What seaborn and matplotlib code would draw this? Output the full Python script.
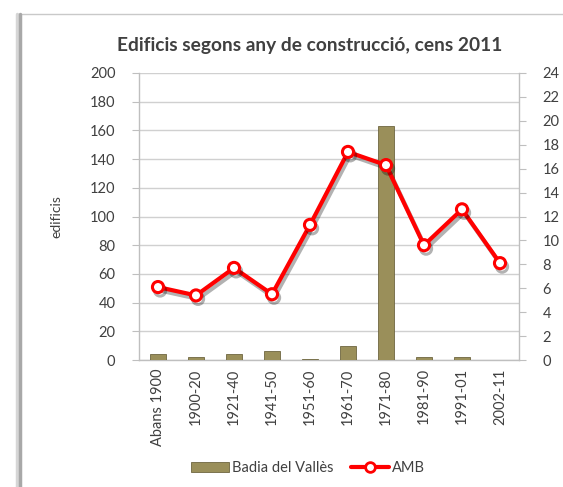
import matplotlib
matplotlib.use("Agg")
import numpy as np
import pandas as pd
import matplotlib.pyplot as plt
import matplotlib.patheffects as pe
from matplotlib.patches import Rectangle
from matplotlib.lines import Line2D
from matplotlib.ticker import MultipleLocator
import seaborn as sns

# Data
periods = ["Abans 1900", "1900-20", "1921-40", "1941-50", "1951-60",
           "1961-70", "1971-80", "1981-90", "1991-01", "2002-11"]
badia = [4, 2, 4, 6, 1, 10, 163, 2, 2, 0]          # left axis (edificis)
amb = [6.1, 5.4, 7.7, 5.5, 11.3, 17.4, 16.3, 9.6, 12.6, 8.1]  # right axis

df = pd.DataFrame({"periode": periods, "Badia del Vallès": badia, "AMB": amb})

sns.set_style("white")
plt.rcParams["font.family"] = ["Lato", "DejaVu Sans"]

TXT = "#404040"
GRID = "#d0d0d0"
SPINE = "#bfbfbf"
BAR = "#9a8f5a"
RED = "#ff0000"

fig = plt.figure(figsize=(5.63, 4.87), dpi=100)
ax = fig.add_axes([139 / 563, 1 - 360 / 487, 380 / 563, 287 / 487])

# chart frame (left shadowed edge + top line)
fig.patches.append(Rectangle((20 / 563, -0.1), 1.2, 1 - 14 / 487 + 0.1,
                             transform=fig.transFigure, fill=False,
                             edgecolor="#c9c9c9", linewidth=1.0, zorder=0))
fig.add_artist(Line2D([20 / 563, 20 / 563], [0, 1 - 14 / 487],
                      transform=fig.transFigure, color="#a8a8a8", linewidth=2.5,
                      path_effects=[pe.SimpleLineShadow(offset=(-2, 0), shadow_color="#cccccc", alpha=0.8),
                                    pe.Normal()]))

# bars (left axis)
sns.barplot(data=df, x="periode", y="Badia del Vallès", color=BAR, width=0.4,
            saturation=1, edgecolor="#6e6640", linewidth=0.6, ax=ax, zorder=3)
ax.set_ylim(0, 200)
ax.set_xlim(-0.5, len(periods) - 0.5)
ax.yaxis.set_major_locator(MultipleLocator(20))
ax.grid(axis="y", color=GRID, linewidth=1, zorder=0)
ax.set_axisbelow(True)
ax.set_xlabel("")
ax.set_ylabel("edificis", fontsize=10, color=TXT)
ax.yaxis.set_label_coords((62 - 139) / 380, 0.5)
ax.set_xticks(range(len(periods)))
ax.set_xticklabels(periods, rotation=90, fontsize=10.5, color=TXT)
ax.set_xticks(np.arange(-0.5, len(periods)), minor=True)
ax.tick_params(axis="x", which="major", length=0, pad=6)
ax.tick_params(axis="x", which="minor", length=5, color=SPINE, direction="out")
ax.tick_params(axis="y", length=5, color=SPINE, direction="out", labelsize=10.5,
               labelcolor=TXT, pad=12)
for side in ["top", "right"]:
    ax.spines[side].set_visible(False)
for side in ["left", "bottom"]:
    ax.spines[side].set_color(SPINE)
    ax.spines[side].set_linewidth(1)

# line (right axis)
ax2 = ax.twinx()
sns.lineplot(x=np.arange(len(periods)), y=df["AMB"], color=RED, linewidth=3,
             marker="o", markersize=8, markerfacecolor="white",
             markeredgecolor=RED, markeredgewidth=2.2, ax=ax2, zorder=5,
             path_effects=[pe.SimpleLineShadow(offset=(1.5, -2.5), shadow_color="black", alpha=0.3),
                           pe.Normal()])
ax2.set_ylim(0, 24)
ax2.set_xlim(-0.5, len(periods) - 0.5)
ax2.yaxis.set_major_locator(MultipleLocator(2))
ax2.set_ylabel("")
ax2.tick_params(axis="y", length=5, color=SPINE, direction="out", labelsize=10.5,
                labelcolor=TXT, pad=12)
for side in ["top", "left", "bottom"]:
    ax2.spines[side].set_visible(False)
ax2.spines["right"].set_color(SPINE)
ax2.spines["right"].set_linewidth(1)

fig.text(310 / 563, 1 - 45 / 487, "Edificis segons any de construcció, cens 2011",
         ha="center", va="center", fontsize=13.8, fontweight="bold", color=TXT)

handles = [Rectangle((0, 0), 1, 1, facecolor=BAR, edgecolor="#6e6640", linewidth=0.6),
           Line2D([], [], color=RED, linewidth=3, marker="o", markersize=7,
                  markerfacecolor="white", markeredgecolor=RED, markeredgewidth=2)]
fig.legend(handles, ["Badia del Vallès", "AMB"], loc="center",
           bbox_to_anchor=(308 / 563, 1 - 468 / 487), ncol=2, frameon=False,
           fontsize=10.5, labelcolor=TXT, handlelength=2.6, handletextpad=0.2,
           columnspacing=1.2)

fig.savefig("out.png", dpi=100)
